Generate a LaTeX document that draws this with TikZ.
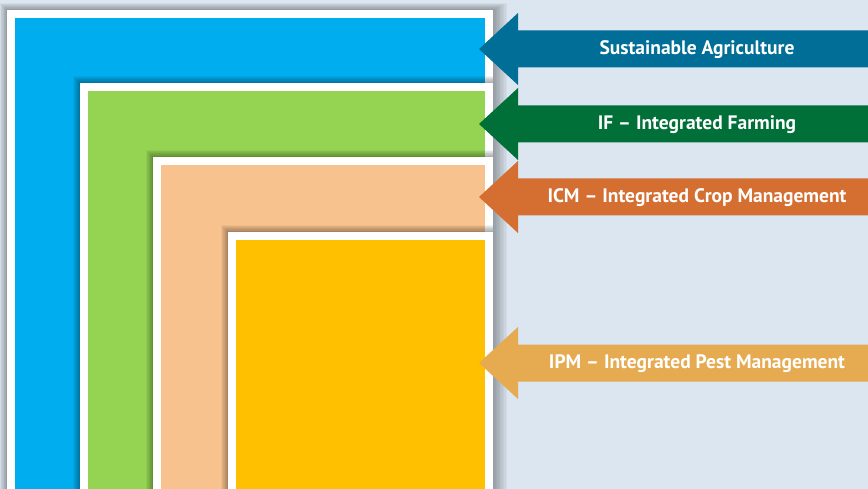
\documentclass[tikz,border=0pt]{standalone}
\usepackage{fontspec}
\setmainfont{PT Sans}
\definecolor{bg}{HTML}{DCE6F0}
\definecolor{sqblue}{HTML}{00AEEF}
\definecolor{sqgreen}{HTML}{94D452}
\definecolor{sqpeach}{HTML}{F8C28F}
\definecolor{sqyellow}{HTML}{FFC000}
\definecolor{arSA}{HTML}{006E96}
\definecolor{arIF}{HTML}{006F38}
\definecolor{arICM}{HTML}{D46E31}
\definecolor{arIPM}{HTML}{E6AA50}
\tikzset{
  label/.style={text=white, font=\bfseries\fontsize{19.5}{22}\selectfont, anchor=center},
}
% soft shadow round a frame whose top-left corner is (#1,#2);
% #3 is how far it spreads past the right edge
\newcommand\frameshadow[3]{%
  \foreach \i in {1,...,10}{%
    \fill[black, opacity=0.035] (#1-\i*0.7, #2-\i*0.7) rectangle (493+\i*#3, 500);}}
% one level: white frame at (#1,#2), coloured square inset by 8
\newcommand\level[4]{%
  \frameshadow{#1}{#2}{#4}%
  \fill[white] (#1,#2) rectangle (493,500);
  \fill[#3] (#1+8,#2+8) rectangle (485,500);}
% left-pointing arrow with its tip at (#1,#2)
\newcommand\levelarrow[3]{%
  \fill[#3] (#1,#2) -- (#1+39,#2-36) -- (#1+39,#2-18.5) -- (868,#2-18.5)
    -- (868,#2+18.5) -- (#1+39,#2+18.5) -- (#1+39,#2+36) -- cycle;}
\begin{document}
\begin{tikzpicture}[x=1pt,y=-1pt]
\useasboundingbox (0,0) rectangle (868,489);
\fill[bg] (0,0) rectangle (868,489);
\begin{scope}
\clip (0,0) rectangle (868,489);
\level{7}{10}{sqblue}{1.4}
\level{80}{83}{sqgreen}{0}
\level{153}{157}{sqpeach}{0}
\level{228}{232}{sqyellow}{0}
\end{scope}
% arrows pointing at each level
\levelarrow{479}{49}{arSA}
\levelarrow{479}{124}{arIF}
\levelarrow{479}{197}{arICM}
\levelarrow{479}{363}{arIPM}
\node[label] (sa)  at (697,50)  {Sustainable Agriculture};
\node[label] (if)  at (697,125) {IF – Integrated Farming};
\node[label] (icm) at (697,198) {ICM – Integrated Crop Management};
\node[label] (ipm) at (697,364) {IPM – Integrated Pest Management};
\end{tikzpicture}
\end{document}
